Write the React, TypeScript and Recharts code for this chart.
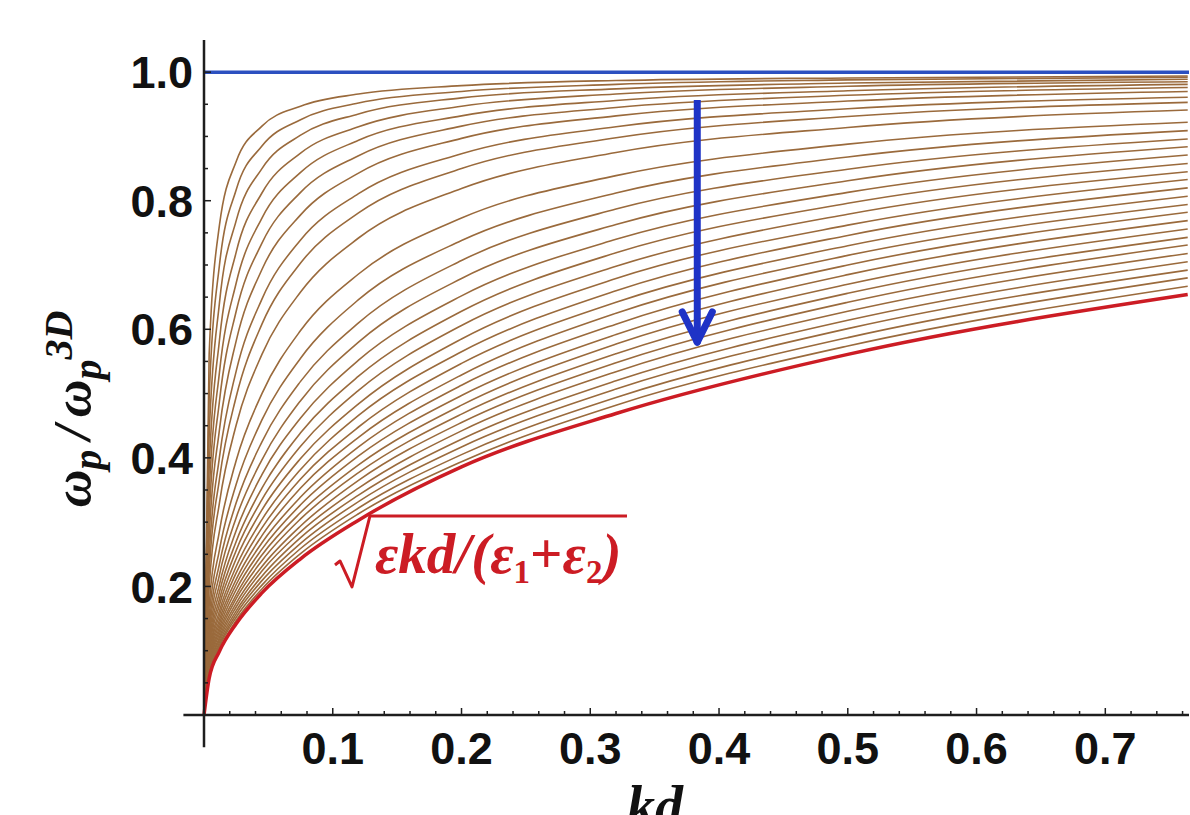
import React from "react";
import { LineChart, Line, XAxis, YAxis, ReferenceLine, ReferenceDot } from "recharts";

// kd sample points shared by every curve
const kd = [0, 0.004, 0.012, 0.025, 0.045, 0.075, 0.12, 0.2, 0.32, 0.5, 0.764];

// red curve, sqrt(eps kd/(eps1+eps2))
const limitCurve = [0, 0.057, 0.099, 0.142, 0.19, 0.243, 0.303, 0.386, 0.469, 0.561, 0.654];

// upper bundle of brown curves, top to bottom
const upperCurves = [
  [0, 0.561, 0.762, 0.861, 0.916, 0.947, 0.966, 0.979, 0.987, 0.991, 0.994],
  [0, 0.492, 0.7, 0.817, 0.885, 0.926, 0.952, 0.97, 0.981, 0.988, 0.992],
  [0, 0.434, 0.641, 0.769, 0.85, 0.902, 0.935, 0.96, 0.974, 0.983, 0.989],
  [0, 0.383, 0.583, 0.72, 0.812, 0.874, 0.915, 0.947, 0.966, 0.978, 0.985],
  [0, 0.342, 0.533, 0.672, 0.773, 0.844, 0.894, 0.932, 0.956, 0.971, 0.981],
  [0, 0.307, 0.488, 0.628, 0.734, 0.813, 0.87, 0.916, 0.945, 0.964, 0.976],
  [0, 0.275, 0.444, 0.582, 0.693, 0.778, 0.843, 0.897, 0.932, 0.955, 0.97],
  [0, 0.245, 0.401, 0.535, 0.647, 0.739, 0.811, 0.873, 0.915, 0.943, 0.961],
  [0, 0.222, 0.367, 0.495, 0.608, 0.703, 0.781, 0.85, 0.898, 0.931, 0.953],
  [0, 0.198, 0.33, 0.451, 0.561, 0.658, 0.742, 0.819, 0.875, 0.914, 0.941],
];

// lower bundle, top to bottom (ends just above the red curve)
const lowerCurves = [
  [0, 0.17, 0.286, 0.396, 0.5, 0.598, 0.686, 0.773, 0.839, 0.888, 0.922],
  [0, 0.152, 0.257, 0.359, 0.459, 0.555, 0.646, 0.738, 0.812, 0.868, 0.909],
  [0, 0.138, 0.235, 0.33, 0.425, 0.519, 0.61, 0.707, 0.787, 0.849, 0.896],
  [0, 0.128, 0.218, 0.307, 0.397, 0.489, 0.58, 0.679, 0.763, 0.831, 0.884],
  [0, 0.119, 0.203, 0.287, 0.374, 0.462, 0.552, 0.652, 0.74, 0.813, 0.871],
  [0, 0.111, 0.191, 0.27, 0.353, 0.439, 0.527, 0.628, 0.719, 0.796, 0.858],
  [0, 0.105, 0.18, 0.256, 0.335, 0.418, 0.505, 0.606, 0.698, 0.779, 0.845],
  [0, 0.099, 0.171, 0.243, 0.319, 0.399, 0.484, 0.585, 0.679, 0.762, 0.833],
  [0, 0.094, 0.162, 0.231, 0.304, 0.382, 0.466, 0.565, 0.66, 0.746, 0.82],
  [0, 0.09, 0.155, 0.221, 0.291, 0.367, 0.448, 0.547, 0.642, 0.73, 0.807],
  [0, 0.086, 0.148, 0.211, 0.279, 0.353, 0.432, 0.529, 0.625, 0.715, 0.794],
  [0, 0.082, 0.142, 0.203, 0.268, 0.339, 0.417, 0.513, 0.608, 0.7, 0.782],
  [0, 0.079, 0.136, 0.195, 0.258, 0.327, 0.403, 0.497, 0.592, 0.685, 0.769],
  [0, 0.076, 0.131, 0.187, 0.249, 0.315, 0.389, 0.482, 0.577, 0.67, 0.756],
  [0, 0.073, 0.126, 0.181, 0.24, 0.305, 0.377, 0.468, 0.562, 0.656, 0.743],
  [0, 0.07, 0.121, 0.174, 0.231, 0.294, 0.365, 0.455, 0.548, 0.642, 0.731],
  [0, 0.068, 0.117, 0.168, 0.224, 0.285, 0.353, 0.442, 0.534, 0.628, 0.718],
  [0, 0.066, 0.113, 0.162, 0.216, 0.276, 0.342, 0.429, 0.52, 0.614, 0.705],
  [0, 0.063, 0.109, 0.157, 0.209, 0.267, 0.332, 0.417, 0.507, 0.601, 0.692],
  [0, 0.061, 0.106, 0.152, 0.202, 0.259, 0.322, 0.405, 0.494, 0.587, 0.68],
  [0, 0.059, 0.102, 0.147, 0.196, 0.251, 0.313, 0.394, 0.482, 0.574, 0.667],
];

const xMajorTicks = [0.1, 0.2, 0.3, 0.4, 0.5, 0.6, 0.7];
const xTickLabels = ["0.1", "0.2", "0.3", "0.4", "0.5", "0.6", "0.7"];
const yMajorTicks = [0.2, 0.4, 0.6, 0.8, 1.0];
const yTickLabels = ["0.2", "0.4", "0.6", "0.8", "1.0"];
const xAllTicks = Array.from({ length: 38 }, (_, i) => +((i + 1) * 0.02).toFixed(2));
const yAllTicks = Array.from({ length: 20 }, (_, i) => +((i + 1) * 0.05).toFixed(2));

// arrow annotation (data coords)
const arrowX = 0.3831;
const arrowTop = 0.9565;
const arrowTip = 0.58;
const arrowWing = 0.627;
const arrowHalf = 0.0117;

const brownCurves = [...upperCurves, ...lowerCurves];
const data = kd.map((x, j) => {
  const row: Record<string, number> = { kd: x, limit: limitCurve[j] };
  brownCurves.forEach((c, i) => {
    row["b" + i] = c[j];
  });
  return row;
});

const BROWN = "#9a6a3c";
const RED = "#cc1c24";
const AXIS = "#1e1e1e";
const tickFont = {
  fontFamily: "'Liberation Sans', Arial, sans-serif",
  fontWeight: 700,
  fontSize: 45,
  fill: "#111",
};

function XTick(props: any) {
  const { x, y, payload } = props;
  const idx = xMajorTicks.findIndex((t) => Math.abs(t - payload.value) < 1e-6);
  return (
    <g>
      <line x1={x} x2={x} y1={y} y2={y - (idx >= 0 ? 7 : 4)} stroke={AXIS} strokeWidth={1.5} />
      {idx >= 0 && (
        <text x={x} y={y + 49} textAnchor="middle" {...tickFont}>
          {xTickLabels[idx]}
        </text>
      )}
    </g>
  );
}

function YTick(props: any) {
  const { x, y, payload } = props;
  const idx = yMajorTicks.findIndex((t) => Math.abs(t - payload.value) < 1e-6);
  return (
    <g>
      <line x1={x} x2={x + (idx >= 0 ? 7 : 4)} y1={y} y2={y} stroke={AXIS} strokeWidth={1.5} />
      {idx >= 0 && (
        <text x={x - 11} y={y} dy="0.36em" textAnchor="end" {...tickFont}>
          {yTickLabels[idx]}
        </text>
      )}
    </g>
  );
}

function SqrtLabel(props: any) {
  const { cx, cy } = props;
  const f = { fontFamily: "'Liberation Serif', 'Times New Roman', serif", fontStyle: "italic", fontWeight: 700 };
  return (
    <g>
      <path
        d={`M${cx - 40},${cy - 8} L${cx - 35},${cy - 12} L${cx - 23},${cy + 14} L${cx - 5},${cy - 57} L${cx + 252},${cy - 57}`}
        fill="none"
        stroke={RED}
        strokeWidth={3}
        strokeLinejoin="round"
      />
      <text x={cx} y={cy} fill={RED} fontSize={57} {...f}>
        εkd/(ε
        <tspan fontSize={33} dy={10} fontStyle="normal">1</tspan>
        <tspan dy={-10} fontStyle="normal">+</tspan>
        <tspan>ε</tspan>
        <tspan fontSize={33} dy={10} fontStyle="normal">2</tspan>
        <tspan dy={-10}>)</tspan>
      </text>
    </g>
  );
}

export default function App() {
  const serif = { fontFamily: "'Liberation Serif', 'Times New Roman', serif", fontStyle: "italic", fontWeight: 700 };
  return (
    <div style={{ position: "absolute", left: 0, top: 0, width: 1190, height: 815, background: "#fff", overflow: "hidden" }}>
      <LineChart width={1190} height={815} data={data} margin={{ top: 40, right: 1, left: 144, bottom: 40 }}>
        <XAxis
          dataKey="kd"
          type="number"
          domain={[0, 0.765]}
          ticks={xAllTicks}
          interval={0}
          tick={<XTick />}
          tickLine={false}
          axisLine={false}
          tickSize={0}
          tickMargin={0}
          height={60}
        />
        <YAxis
          type="number"
          domain={[0, 1.05]}
          ticks={yAllTicks}
          interval={0}
          tick={<YTick />}
          tickLine={false}
          axisLine={false}
          tickSize={0}
          tickMargin={0}
          width={60}
        />
        {brownCurves.map((_, i) => (
          <Line
            key={i}
            type="monotone"
            dataKey={"b" + i}
            stroke={BROWN}
            strokeWidth={1.6}
            dot={false}
            isAnimationActive={false}
          />
        ))}
        <Line type="monotone" dataKey="limit" stroke={RED} strokeWidth={3.5} dot={false} isAnimationActive={false} />
        <ReferenceLine y={1} stroke="#2c50c0" strokeWidth={3.5} />
        <ReferenceLine segment={[{ x: -0.016, y: 0 }, { x: 0.765, y: 0 }]} stroke={AXIS} strokeWidth={2.5} ifOverflow="visible" />
        <ReferenceLine segment={[{ x: 0, y: -0.05 }, { x: 0, y: 1.05 }]} stroke={AXIS} strokeWidth={2.5} ifOverflow="visible" />
        <ReferenceLine segment={[{ x: arrowX, y: arrowTop }, { x: arrowX, y: arrowTip + 0.01 }]} stroke="#1f33c6" strokeWidth={7} />
        <ReferenceLine segment={[{ x: arrowX - arrowHalf, y: arrowWing }, { x: arrowX, y: arrowTip }]} stroke="#1f33c6" strokeWidth={7} strokeLinecap="round" />
        <ReferenceLine segment={[{ x: arrowX + arrowHalf, y: arrowWing }, { x: arrowX, y: arrowTip }]} stroke="#1f33c6" strokeWidth={7} strokeLinecap="round" />
        <ReferenceDot x={0.1328} y={0.2209} r={0} shape={<SqrtLabel />} />
      </LineChart>
      <svg width={1190} height={815} style={{ position: "absolute", left: 0, top: 0, pointerEvents: "none" }}>
        <text x={655} y={825} textAnchor="middle" fontSize={56} fill="#111" {...serif}>
          kd
        </text>
        <text transform="translate(90, 409) rotate(-90)" textAnchor="middle" fontSize={52} fill="#111" {...serif}>
          ω
          <tspan fontSize={40} dy={11}>p</tspan>
          <tspan dy={-11} dx={10}>/</tspan>
          <tspan dx={8}>ω</tspan>
          <tspan fontSize={40} dy={11}>p</tspan>
          <tspan fontSize={40} dy={-29}>3D</tspan>
        </text>
      </svg>
    </div>
  );
}
